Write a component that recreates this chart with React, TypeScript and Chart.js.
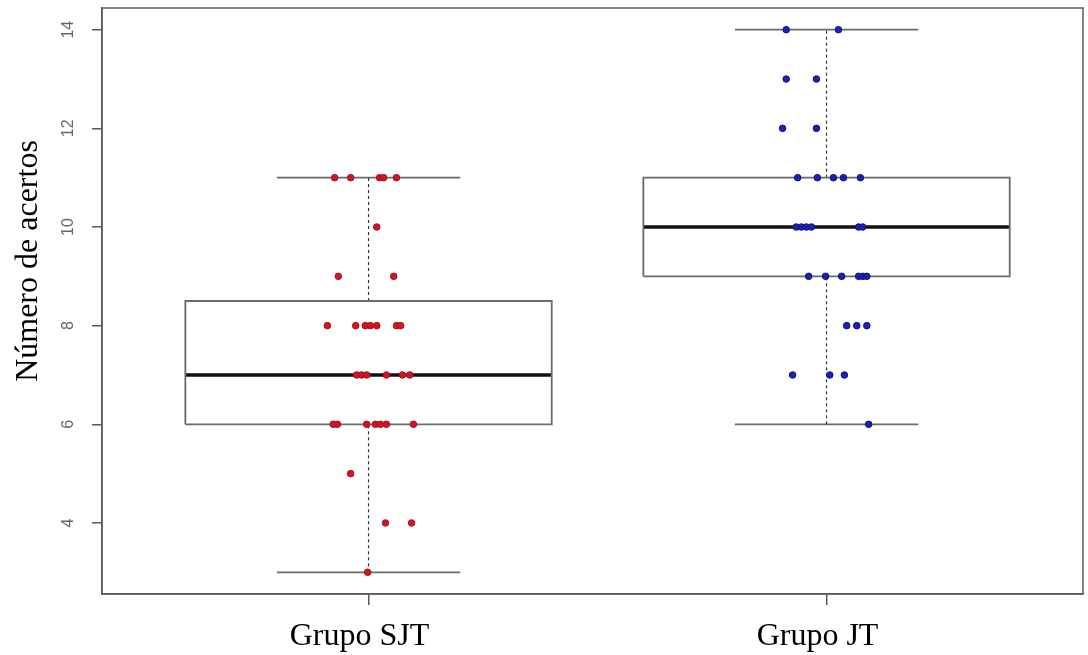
import React, { useEffect, useRef } from "react";
import { Chart, registerables } from "chart.js";

Chart.register(...registerables);

// ---- Data ----
const categories = ["Grupo SJT", "Grupo JT"];
const yTicks = [4, 6, 8, 10, 12, 14];
const yTitle = "Número de acertos";

// box statistics per group
const whiskerLow = [3, 6];
const q1 = [6, 9];
const median = [7, 10];
const q3 = [8.5, 11];
const whiskerHigh = [11, 14];

// jittered points (x = jittered group position, y = value)
const sjtX = [
  0.926, 0.961, 1.024, 1.033, 1.061,
  1.018,
  0.934, 1.055,
  0.91, 0.972, 0.993, 1.004, 1.018, 1.061, 1.07,
  0.974, 0.985, 0.996, 1.039, 1.074, 1.09,
  0.923, 0.932, 0.996, 1.015, 1.026, 1.039, 1.098,
  0.961,
  1.037, 1.094,
  0.998,
];
const sjtY = [
  11, 11, 11, 11, 11,
  10,
  9, 9,
  8, 8, 8, 8, 8, 8, 8,
  7, 7, 7, 7, 7, 7,
  6, 6, 6, 6, 6, 6, 6,
  5,
  4, 4,
  3,
];
const jtX = [
  1.912, 2.026,
  1.912, 1.978,
  1.904, 1.978,
  1.937, 1.98, 2.015, 2.037, 2.074,
  1.934, 1.945, 1.956, 1.967, 2.07, 2.079,
  1.961, 1.998, 2.033, 2.07, 2.079, 2.088,
  2.044, 2.066, 2.088,
  1.926, 2.007, 2.039,
  2.092,
];
const jtY = [
  14, 14,
  13, 13,
  12, 12,
  11, 11, 11, 11, 11,
  10, 10, 10, 10, 10, 10,
  9, 9, 9, 9, 9, 9,
  8, 8, 8,
  7, 7, 7,
  6,
];

const BOX_HALF = 0.4;
const CAP_HALF = 0.2;
const SERIF = "'Liberation Serif', 'Times New Roman', serif";
const SANS = "'Liberation Sans', Arial, sans-serif";

const frame = {
  id: "frame",
  afterDraw(chart: any) {
    const { ctx, chartArea } = chart;
    ctx.save();
    ctx.strokeStyle = "#5a5a5a";
    ctx.lineWidth = 1.5;
    ctx.strokeRect(chartArea.left, chartArea.top, chartArea.right - chartArea.left, chartArea.bottom - chartArea.top);
    ctx.restore();
  },
};

export default function App() {
  const ref = useRef<HTMLCanvasElement | null>(null);

  useEffect(() => {
    if (!ref.current) return;
    const lineDs = (data: any[], color: string, width: number, dash: number[] = []) => ({
      type: "scatter" as const,
      data,
      showLine: true,
      borderColor: color,
      borderWidth: width,
      borderDash: dash,
      pointRadius: 0,
      pointHoverRadius: 0,
      fill: false,
      order: 2,
    });
    const datasets: any[] = [];
    categories.forEach((_, i) => {
      const p = i + 1;
      datasets.push(
        lineDs(
          [
            { x: p - BOX_HALF, y: q1[i] },
            { x: p + BOX_HALF, y: q1[i] },
            { x: p + BOX_HALF, y: q3[i] },
            { x: p - BOX_HALF, y: q3[i] },
            { x: p - BOX_HALF, y: q1[i] },
          ],
          "#6a6a6a",
          1.8
        )
      );
      datasets.push(lineDs([{ x: p - BOX_HALF, y: median[i] }, { x: p + BOX_HALF, y: median[i] }], "#111", 3.5));
      datasets.push(lineDs([{ x: p, y: q3[i] }, { x: p, y: whiskerHigh[i] }], "#333", 1.2, [3, 3]));
      datasets.push(lineDs([{ x: p, y: whiskerLow[i] }, { x: p, y: q1[i] }], "#333", 1.2, [3, 3]));
      datasets.push(lineDs([{ x: p - CAP_HALF, y: whiskerHigh[i] }, { x: p + CAP_HALF, y: whiskerHigh[i] }], "#6a6a6a", 1.8));
      datasets.push(lineDs([{ x: p - CAP_HALF, y: whiskerLow[i] }, { x: p + CAP_HALF, y: whiskerLow[i] }], "#6a6a6a", 1.8));
    });
    datasets.push({
      type: "scatter",
      data: sjtX.map((x, k) => ({ x, y: sjtY[k] })),
      backgroundColor: "rgb(210,20,35)",
      borderColor: "rgb(160,20,30)",
      borderWidth: 1,
      pointRadius: 3.3,
      order: 0,
    });
    datasets.push({
      type: "scatter",
      data: jtX.map((x, k) => ({ x, y: jtY[k] })),
      backgroundColor: "rgb(30,30,185)",
      borderColor: "rgb(20,20,120)",
      borderWidth: 1,
      pointRadius: 3.3,
      order: 0,
    });

    const chart = new Chart(ref.current, {
      type: "scatter",
      data: { datasets },
      plugins: [frame],
      options: {
        animation: false,
        responsive: false,
        events: [],
        layout: { padding: { left: 0, right: 5, top: 8, bottom: 0 } },
        plugins: { legend: { display: false }, tooltip: { enabled: false } },
        scales: {
          x: {
            type: "linear",
            min: 0.418,
            max: 2.56,
            afterBuildTicks: (s: any) => {
              s.ticks = categories.map((_, i) => ({ value: i + 1 }));
            },
            afterFit: (s: any) => {
              s.height = 61;
              s.paddingLeft = 0;
              s.paddingRight = 0;
            },
            ticks: {
              callback: (v: any) => categories[Math.round(Number(v)) - 1] ?? "",
              font: { family: SERIF, size: 32 },
              color: "#000",
              padding: 12,
              labelOffset: -9,
              maxRotation: 0,
              minRotation: 0,
            },
            grid: { drawOnChartArea: false, drawTicks: true, tickLength: 11, color: "#5a5a5a", lineWidth: 1.5 },
            border: { display: true, color: "#5a5a5a", width: 1.5 },
          },
          y: {
            type: "linear",
            min: 2.56,
            max: 14.44,
            afterBuildTicks: (s: any) => {
              s.ticks = yTicks.map((v) => ({ value: v }));
            },
            afterFit: (s: any) => {
              s.width = 102;
              s.paddingTop = 0;
              s.paddingBottom = 0;
            },
            ticks: {
              font: { family: SANS, size: 16 },
              color: "#666",
              minRotation: 90,
              maxRotation: 90,
              crossAlign: "center",
              padding: 15,
            },
            grid: { drawOnChartArea: false, drawTicks: true, tickLength: 10, color: "#5a5a5a", lineWidth: 1.5 },
            border: { display: true, color: "#5a5a5a", width: 1.5 },
            title: {
              display: true,
              text: "\u00a0".repeat(10) + yTitle,
              font: { family: SERIF, size: 32 },
              color: "#000",
              padding: { top: 9, bottom: 0 },
            },
          },
        },
      },
    });
    return () => chart.destroy();
  }, []);

  return (
    <div style={{ position: "absolute", left: 0, top: 0, width: 1088, height: 655, background: "#fff" }}>
      <canvas ref={ref} width={1088} height={655} />
    </div>
  );
}
